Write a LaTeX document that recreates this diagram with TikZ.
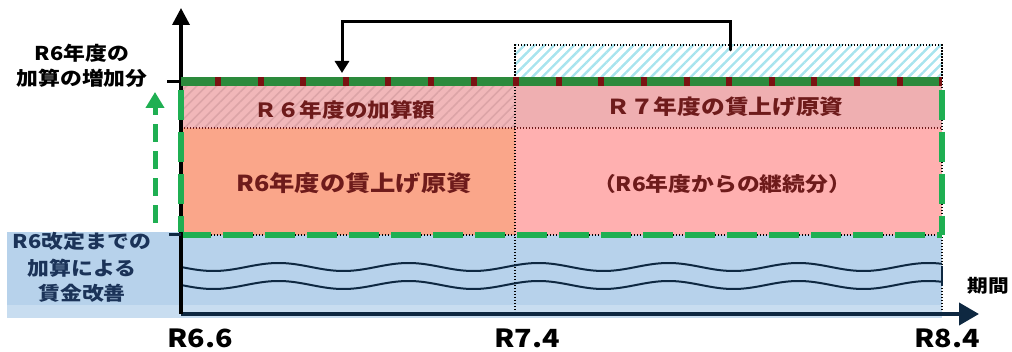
\documentclass[tikz,border=0pt]{standalone}
\usepackage{fontspec}
\newfontfamily\jp{Noto Sans CJK JP}
\usetikzlibrary{patterns.meta,arrows.meta}
\definecolor{dred}{HTML}{6E1B1B}
\definecolor{bandgreen}{HTML}{2C8A3C}
\definecolor{bandred}{HTML}{7A1212}
\definecolor{brgreen}{HTML}{1FAF52}
\definecolor{navy}{HTML}{0E2841}
\definecolor{bluetext}{HTML}{1B3358}
\definecolor{pinkhatch}{HTML}{F1B7B9}
\definecolor{pinkstripe}{HTML}{DCA4A7}
\definecolor{rosetop}{HTML}{EFAFB1}
\definecolor{pinklow}{HTML}{FFB0B0}
\definecolor{salmon}{HTML}{FAA68A}
\definecolor{lblue}{HTML}{B7D2EB}
\definecolor{lblue2}{HTML}{C8DDF0}
\definecolor{cyanstripe}{HTML}{A8E4EE}
\newcommand\sx[1]{\scalebox{1.15}[1]{#1}}
\begin{document}
\begin{tikzpicture}[x=1pt,y=-1pt,
  boxtext/.style={text=dred,font=\jp\bfseries,inner sep=0pt},
  axlabel/.style={text=black,font=\jp\bfseries\fontsize{25}{28}\selectfont,inner sep=0pt},
  sidelabel/.style={font=\jp\bfseries\fontsize{19}{22}\selectfont,inner sep=0pt},
  divider/.style={line width=1.3pt,dash pattern=on 1.4pt off 1.6pt},
  wave/.style={navy,line width=2pt}]
\useasboundingbox (0,0) rectangle (1012,352);
% coordinates
\coordinate (O) at (181,314);
\coordinate (T) at (181,8);
\coordinate (E) at (979,314);
% blue base
\fill[lblue] (7,232) rectangle (942,318);
\fill[lblue2] (7,305) rectangle (942,318);
% left hatched pink
\fill[pinkhatch] (181,86) rectangle (515,128);
\fill[pattern={Lines[angle=45,distance=7pt,line width=1.6pt]},pattern color=pinkstripe] (181,86) rectangle (515,128);
% orange
\fill[salmon] (181,128) rectangle (515,235);
% right pinks
\fill[rosetop] (515,86) rectangle (942,128);
\fill[pinklow] (515,128) rectangle (942,235);
% cyan hatched box
\fill[pattern={Lines[angle=45,distance=7pt,line width=2.4pt]},pattern color=cyanstripe] (515,45) rectangle (942,78);
\draw[divider,line width=2pt] (515,78) -- (515,45) -- (942,45) -- (942,78);
% dotted dividers
\draw[divider,dred] (181,128) -- (942,128);
\draw[divider,black] (515,45) -- (515,314);
\draw[divider,black,line width=1.8pt] (942,45) -- (942,314);
\draw[divider,black] (181,235) -- (942,235);
% waves
\draw[wave] plot[domain=181:942,samples=300,smooth] (\x,{267+4*sin((\x-181)/130*360)});
\draw[wave] plot[domain=181:942,samples=300,smooth] (\x,{285+4*sin((\x-181)/130*360)});
\draw[wave] (942,266) -- (942,286);
% green dashed rectangle (lower / sides)
\draw[brgreen,line width=5.5pt,dash pattern=on 30pt off 12pt] (181,235) -- (942,235);
\draw[brgreen,line width=5.5pt,dash pattern=on 30pt off 12pt] (942,90) -- (942,235);
% axes
\draw[navy,line width=4pt,-{Triangle[length=20pt,width=22pt]}] (O) -- (E);
\draw[black,line width=3.5pt,-{Triangle[length=17pt,width=17pt]}] (O) -- (T);
\draw[brgreen,line width=5.5pt,dash pattern=on 30pt off 12pt] (181,90) -- (181,232);
% ticks
\draw[black,line width=3pt] (167,82) -- (181,82);
\draw[navy,line width=3pt] (169,235) -- (181,235);
% top band
\draw[bandgreen,line width=9pt] (181,82) -- (942,82);
\draw[bandred,line width=9pt,dash pattern=on 6pt off 36.6pt,dash phase=-34pt] (181,82) -- (942,82);
% green up arrow
\draw[brgreen,line width=5pt,dash pattern=on 18pt off 9pt,-{Triangle[length=16pt,width=18pt]}] (155,223) -- (155,92);
% bracket arrow
\coordinate (src) at (730,50);
\coordinate (dst) at (342,73);
\draw[black,line width=3pt,line cap=round,-{Triangle[length=12pt,width=14pt]}] (src) -- (730,22) -| (dst);
% box texts
\node[boxtext] (t1) at (345,110) {\fontsize{19.6}{22}\selectfont\sx{Ｒ６年度の加算額}};
\node[boxtext] (t2) at (354,183) {\fontsize{22}{25}\selectfont\sx{R6年度の賃上げ原資}};
\node[boxtext] (t3) at (725,107) {\fontsize{20.6}{24}\selectfont\sx{Ｒ７年度の賃上げ原資}};
\node[boxtext] (t4) at (722,184) {\fontsize{19.8}{23}\selectfont\sx{（R6年度からの継続分）}};
% side labels
\node[sidelabel] (s1) at (82,53) {\sx{R6年度の}};
\node[sidelabel] (s2) at (82,78) {\sx{加算の増加分}};
\node[sidelabel,text=bluetext] (b1) at (82,241) {\sx{R6改定までの}};
\node[sidelabel,text=bluetext] (b2) at (82,268) {\sx{加算による}};
\node[sidelabel,text=bluetext] (b3) at (82,293) {\sx{賃金改善}};
% axis labels
\node[axlabel] (x1) at (200,338) {\sx{R6.6}};
\node[axlabel] (x2) at (527,338) {\sx{R7.4}};
\node[axlabel] (x3) at (947,338) {\sx{R8.4}};
\node[sidelabel,font=\jp\bfseries\fontsize{18}{20}\selectfont] (per) at (988,286) {\sx{期間}};
\end{tikzpicture}
\end{document}
